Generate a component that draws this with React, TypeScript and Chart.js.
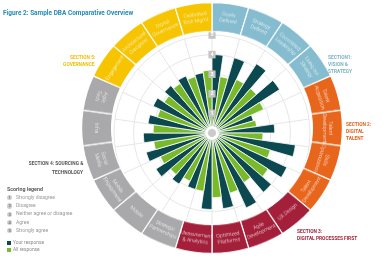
import React, { useEffect, useRef } from "react";
import { Chart, registerables } from "chart.js";

Chart.register(...registerables);

// ---------- data ----------
const categories: string[][] = [
  ["Goals", "Defined"],
  ["Strategy", "Defined"],
  ["Committed", "Leadership"],
  ["Living our", "Strategy"],
  ["Talent", "Acquisition"],
  ["Talent", "Development"],
  ["Skills", "Optimization"],
  ["Talent", "Development"],
  ["UX Design"],
  ["Agile", "Development"],
  ["Optimized", "Platforms"],
  ["Measurement", "& Analytics"],
  ["Strategic", "Partnerships"],
  ["Mobile"],
  ["Mobile", "Engagement"],
  ["Social", "Media"],
  ["Infra"],
  ["Agile", "Tech"],
  ["Engagement"],
  ["Architectural", "Discipline"],
  ["Digital", "Governance"],
  ["Calibrated", "Risk Mgmt"],
];
const sectionOf = [1, 1, 1, 1, 2, 2, 2, 2, 3, 3, 3, 3, 4, 4, 4, 4, 4, 4, 5, 5, 5, 5];
const yourResponse = [4.0, 4.0, 4.2, 4.1, 2.2, 3.2, 4.3, 4.2, 4.0, 4.2, 3.9, 3.9, 3.0, 3.1, 3.4, 3.5, 3.5, 3.3, 3.3, 3.2, 3.2, 3.1];
const allResponse = [2.9, 3.0, 3.0, 2.9, 2.3, 2.6, 3.1, 3.4, 3.0, 3.2, 3.3, 3.0, 2.7, 2.8, 2.9, 3.0, 3.0, 2.9, 2.9, 3.0, 3.0, 3.2];
const scaleTicks = [1, 2, 3, 4, 5];
const scoringLegend = ["Strongly disagree", "Disagree", "Neither agree or disagree", "Agree", "Strongly agree"];
const seriesNames = ["Your response", "All response"];
const sectionTitles: { [k: number]: string[] } = {
  1: ["SECTION1:", "VISION &", "STRATEGY"],
  2: ["SECTION 2:", "DIGITAL", "TALENT"],
  3: ["SECTION 3:", "DIGITAL PROCESSES FIRST"],
  4: ["SECTION 4:  SOURCING &", "TECHNOLOGY"],
  5: ["SECTION 5:", "GOVERNANCE"],
};

// ---------- style ----------
const DARK = "#0b4850";
const GREEN = "#7aba2a";
const sectionColors: { [k: number]: string } = {
  1: "#86bccf",
  2: "#e8651c",
  3: "#a41f3a",
  4: "#a9a9ab",
  5: "#f6c400",
};
const sectionTextColors: { [k: number]: string } = {
  1: "#79b4c9",
  2: "#e25e1a",
  3: "#9e1f37",
  4: "#555555",
  5: "#efbf00",
};
const FONT = "Roboto, 'Liberation Sans', sans-serif";

const ringLabelPlugin = {
  id: "ringLabels",
  afterDatasetsDraw(chart: any) {
    const ctx = chart.ctx;
    const meta = chart.getDatasetMeta(0);
    meta.data.forEach((arc: any, i: number) => {
      const p = arc.getProps(["x", "y", "startAngle", "endAngle", "innerRadius", "outerRadius"], true);
      const mid = (p.startAngle + p.endAngle) / 2;
      const r = (p.innerRadius + p.outerRadius) / 2;
      const px = p.x + Math.cos(mid) * r;
      const py = p.y + Math.sin(mid) * r;
      let theta = mid + Math.PI / 2;
      while (theta < 0) theta += Math.PI * 2;
      while (theta >= Math.PI * 2) theta -= Math.PI * 2;
      const deg = (theta * 180) / Math.PI;
      const rot = deg <= 112 || deg >= 290 ? theta : theta - Math.PI;
      ctx.save();
      ctx.translate(px, py);
      ctx.rotate(rot);
      ctx.fillStyle = "rgba(255,255,255,0.9)";
      ctx.font = "300 5.3px " + FONT;
      ctx.textAlign = "center";
      ctx.textBaseline = "middle";
      const lines = categories[i];
      const lh = 6.6;
      const start = (-(lines.length - 1) * lh) / 2;
      lines.forEach((l, j) => ctx.fillText(l, 0, start + j * lh));
      ctx.restore();
    });
  },
};

function PolarBars() {
  const ref = useRef<HTMLCanvasElement | null>(null);
  useEffect(() => {
    if (!ref.current) return;
    const labels: string[] = [];
    const values: number[] = [];
    const colors: string[] = [];
    categories.forEach((c, i) => {
      labels.push(c.join(" ") + " – " + seriesNames[0]);
      values.push(yourResponse[i]);
      colors.push(DARK);
      labels.push(c.join(" ") + " – " + seriesNames[1]);
      values.push(allResponse[i]);
      colors.push(GREEN);
    });
    const chart = new Chart(ref.current, {
      type: "polarArea",
      data: {
        labels,
        datasets: [
          {
            data: labels.map(() => 0.19),
            backgroundColor: "#cbcbcb",
            borderColor: "#cbcbcb",
            borderWidth: 0.5,
          },
          {
            data: labels.map(() => 0.33),
            backgroundColor: "#ffffff",
            borderColor: "#ffffff",
            borderWidth: 0.5,
          },
          {
            data: values,
            backgroundColor: colors,
            borderColor: "#ffffff",
            borderWidth: 0.8,
          },
        ],
      },
      options: {
        responsive: false,
        animation: false,
        layout: { padding: 0 },
        plugins: { legend: { display: false }, tooltip: { enabled: false } },
        scales: {
          r: {
            min: 0,
            max: 5,
            startAngle: 0,
            ticks: {
              stepSize: 1,
              z: 1,
              color: "#ffffff",
              font: { size: 5.5, family: FONT, weight: "bold" },
              showLabelBackdrop: true,
              backdropColor: "#c4c4c4",
              backdropPadding: { x: 2, y: 1 },
              callback: (v: any) => (scaleTicks.includes(v) ? String(v) : ""),
            },
            grid: { color: "#e0e0e0", lineWidth: 0.8, circular: true },
            angleLines: {
              display: true,
              color: (c: any) => (c.index % 2 === 0 ? "#e0e0e0" : "rgba(0,0,0,0)"),
              lineWidth: 0.8,
            },
            pointLabels: { display: false },
          },
        },
      } as any,
    });
    return () => chart.destroy();
  }, []);
  return (
    <canvas
      ref={ref}
      width={204}
      height={204}
      style={{ position: "absolute", left: 110, top: 31, width: 204, height: 204 }}
    />
  );
}

function Ring() {
  const ref = useRef<HTMLCanvasElement | null>(null);
  useEffect(() => {
    if (!ref.current) return;
    const chart = new Chart(ref.current, {
      type: "doughnut",
      data: {
        labels: categories.map((c) => c.join(" ")),
        datasets: [
          {
            data: categories.map(() => 1),
            backgroundColor: sectionOf.map((s) => sectionColors[s]),
            borderColor: "#ffffff",
            borderWidth: 1.2,
          },
        ],
      },
      options: {
        responsive: false,
        animation: false,
        cutout: "77%",
        rotation: 0,
        layout: { padding: 0 },
        plugins: { legend: { display: false }, tooltip: { enabled: false } },
      } as any,
      plugins: [ringLabelPlugin],
    });
    return () => chart.destroy();
  }, []);
  return (
    <canvas
      ref={ref}
      width={262}
      height={262}
      style={{
        position: "absolute",
        left: 81,
        top: -3,
        width: 262,
        height: 262,
        transform: "scaleY(0.962)",
        transformOrigin: "center center",
      }}
    />
  );
}

function Txt(props: {
  x: number;
  y: number;
  text: string;
  color: string;
  size: number;
  bold?: boolean;
  align?: "left" | "right";
  sx?: number;
}) {
  const { x, y, text, color, size, bold, align = "left", sx = 1 } = props;
  const style: any = {
    position: "absolute",
    top: y,
    whiteSpace: "nowrap",
    fontSize: size,
    lineHeight: size + "px",
    fontWeight: bold ? 700 : 400,
    color,
    fontFamily: FONT,
    transform: `translateY(-50%) scaleX(${sx})`,
    transformOrigin: align === "left" ? "left center" : "right center",
  };
  if (align === "left") style.left = x;
  else style.right = 388 - x;
  return <div style={style}>{text}</div>;
}

function SectionLabel({ sec, x, y, align, gap }: { sec: number; x: number; y: number; align: "left" | "right"; gap: number }) {
  return (
    <>
      {sectionTitles[sec].map((t, i) => (
        <Txt key={i} x={x} y={y + i * gap} text={t} color={sectionTextColors[sec]} size={5.6} bold align={align} sx={0.86} />
      ))}
    </>
  );
}

export default function App() {
  useEffect(() => {
    document.body.style.margin = "0";
  }, []);
  return (
    <div
      style={{
        position: "fixed",
        left: 0,
        top: 0,
        width: 388,
        height: 264,
        overflow: "hidden",
        background: "#ffffff",
        fontFamily: FONT,
      }}
    >
      <PolarBars />
      <Ring />
      <Txt x={3} y={12.5} text="Figure 2: Sample DBA Comparative Overview" color="#2389b5" size={7.2} bold sx={0.9} />
      <SectionLabel sec={5} x={95} y={58} align="right" gap={7} />
      <SectionLabel sec={1} x={328} y={58} align="left" gap={7} />
      <SectionLabel sec={2} x={346} y={125} align="left" gap={7} />
      <SectionLabel sec={3} x={297} y={232} align="left" gap={7} />
      <SectionLabel sec={4} x={83} y={164} align="right" gap={8.5} />
      <Txt x={7} y={189} text="Scoring legend" color="#5a5a5a" size={6.2} bold sx={0.86} />
      {scoringLegend.map((t, i) => (
        <React.Fragment key={i}>
          <div
            style={{
              position: "absolute",
              left: 7,
              top: 197.7 + i * 8.3 - 2.6,
              width: 5.2,
              height: 5.2,
              borderRadius: "50%",
              background: "#cfcfcf",
              color: "#777",
              fontSize: 4,
              lineHeight: "5.2px",
              textAlign: "center",
              fontFamily: FONT,
              fontWeight: 700,
            }}
          >
            {i + 1}
          </div>
          <Txt x={16} y={197.7 + i * 8.3} text={t} color="#9a9a9a" size={5.6} sx={0.9} />
        </React.Fragment>
      ))}
      {seriesNames.map((t, i) => (
        <React.Fragment key={t}>
          <div
            style={{
              position: "absolute",
              left: 7,
              top: 241 + i * 7.3,
              width: 4,
              height: 4,
              background: i === 0 ? DARK : GREEN,
            }}
          />
          <Txt x={13} y={243 + i * 7.3} text={t} color="#8a8a8a" size={5.4} sx={0.9} />
        </React.Fragment>
      ))}
    </div>
  );
}
